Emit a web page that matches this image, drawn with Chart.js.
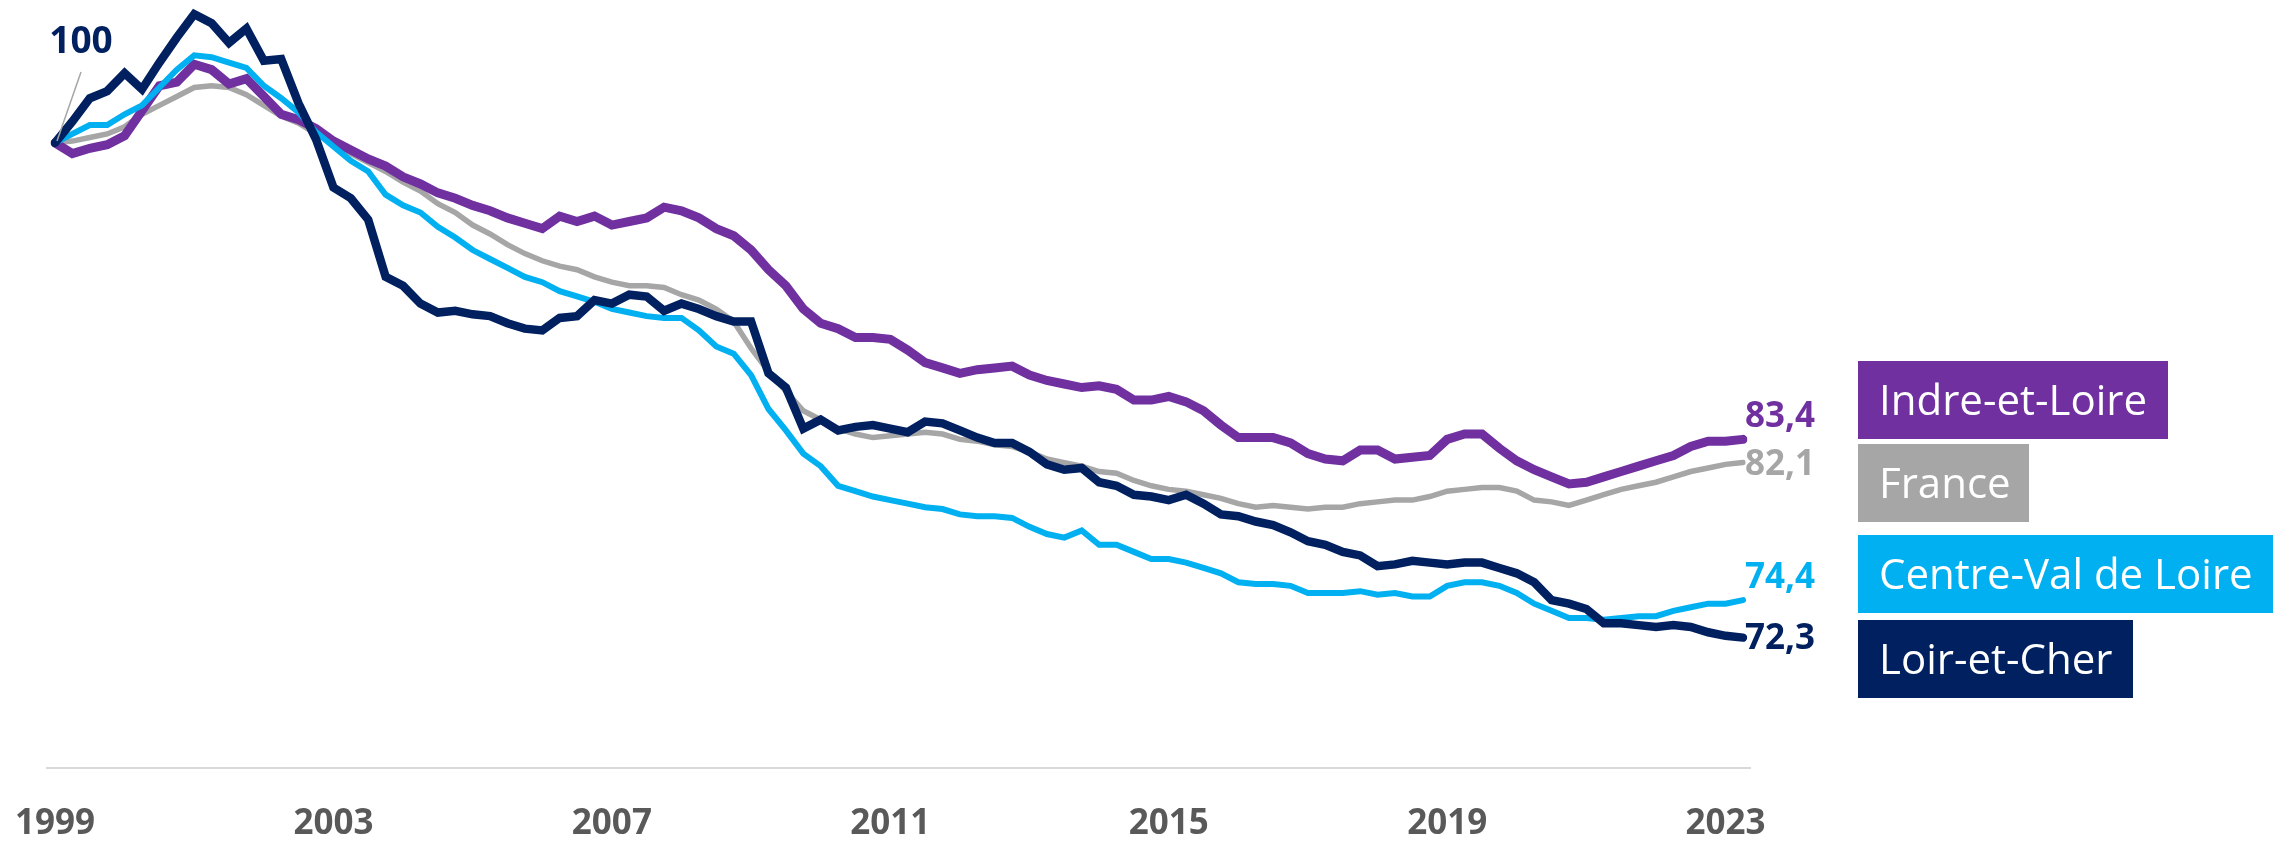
<!DOCTYPE html>
<html>
<head>
<meta charset="utf-8">
<script src="https://cdn.jsdelivr.net/npm/chart.js@4"></script>
<style>
  html, body { margin: 0; padding: 0; background: #fff; }
  #wrap { width: 2273px; height: 842px; }
</style>
</head>
<body>
<div id="wrap"><canvas id="myChart" width="2273" height="842"></canvas></div>
<script>
// années affichées sur l'axe (données trimestrielles, 1999 T1 -> 2023 T2)
const years = [1999, 2000, 2001, 2002, 2003, 2004, 2005, 2006, 2007, 2008, 2009, 2010, 2011,
  2012, 2013, 2014, 2015, 2016, 2017, 2018, 2019, 2020, 2021, 2022, 2023];
const tickYears = ['1999', '2003', '2007', '2011', '2015', '2019', '2023'];
const lastQuarter = 2; // 2023 T2

const seriesNames = ['Indre-et-Loire', 'France', 'Centre-Val de Loire', 'Loir-et-Cher'];

const indreEtLoire = [
  100, 99.4, 99.7, 99.9, 100.4, 101.8, 103.2, 103.4, 104.4, 104.1, 103.3, 103.6, 102.6, 101.6, 101.3, 100.8, 100.1, 99.6,
  99.1, 98.7, 98.1, 97.7, 97.2, 96.9, 96.5, 96.2, 95.8, 95.5, 95.2, 95.9, 95.6, 95.9, 95.4, 95.6,
  95.8, 96.4, 96.2, 95.8, 95.2, 94.8, 94.0, 92.9, 92.0, 90.7, 89.9, 89.6, 89.1, 89.1, 89.0, 88.4,
  87.7, 87.4, 87.1, 87.3, 87.4, 87.5, 87.0, 86.7, 86.5, 86.3, 86.4, 86.2, 85.6, 85.6, 85.8, 85.5,
  85.0, 84.2, 83.5, 83.5, 83.5, 83.2, 82.6, 82.3, 82.2, 82.8, 82.8, 82.3, 82.4, 82.5, 83.4, 83.7,
  83.7, 82.9, 82.2, 81.7, 81.3, 80.9, 81.0, 81.3, 81.6, 81.9, 82.2, 82.5, 83.0, 83.3, 83.3, 83.4
];
const france = [
  100, 100.1, 100.3, 100.5, 100.9, 101.6, 102.1, 102.6, 103.1, 103.2, 103.1, 102.7, 102.1, 101.5, 101.1, 100.5, 100.0, 99.4,
  98.9, 98.4, 97.8, 97.3, 96.6, 96.1, 95.4, 94.9, 94.3, 93.8, 93.4, 93.1, 92.9, 92.5, 92.2, 92.0,
  92.0, 91.9, 91.5, 91.2, 90.7, 90.0, 88.5, 87.2, 86.1, 85.0, 84.5, 84.0, 83.7, 83.5, 83.6, 83.7,
  83.8, 83.7, 83.4, 83.3, 83.1, 83.0, 82.7, 82.3, 82.1, 81.9, 81.6, 81.5, 81.1, 80.8, 80.6, 80.5,
  80.3, 80.1, 79.8, 79.6, 79.7, 79.6, 79.5, 79.6, 79.6, 79.8, 79.9, 80.0, 80.0, 80.2, 80.5, 80.6,
  80.7, 80.7, 80.5, 80.0, 79.9, 79.7, 80.0, 80.3, 80.6, 80.8, 81.0, 81.3, 81.6, 81.8, 82.0, 82.1
];
const centreValDeLoire = [
  100, 100.5, 101.0, 101.0, 101.6, 102.1, 103.1, 104.1, 104.9, 104.8, 104.5, 104.2, 103.2, 102.5, 101.7, 100.6, 99.8, 99.0,
  98.4, 97.1, 96.5, 96.1, 95.3, 94.7, 94.0, 93.5, 93.0, 92.5, 92.2, 91.7, 91.4, 91.1, 90.7, 90.5,
  90.3, 90.2, 90.2, 89.5, 88.6, 88.2, 87.0, 85.1, 83.9, 82.6, 81.9, 80.8, 80.5, 80.2, 80.0, 79.8,
  79.6, 79.5, 79.2, 79.1, 79.1, 79.0, 78.5, 78.1, 77.9, 78.3, 77.5, 77.5, 77.1, 76.7, 76.7, 76.5,
  76.2, 75.9, 75.4, 75.3, 75.3, 75.2, 74.8, 74.8, 74.8, 74.9, 74.7, 74.8, 74.6, 74.6, 75.2, 75.4,
  75.4, 75.2, 74.8, 74.2, 73.8, 73.4, 73.4, 73.3, 73.4, 73.5, 73.5, 73.8, 74.0, 74.2, 74.2, 74.4
];
const loirEtCher = [
  100, 101.2, 102.5, 102.9, 103.9, 103.0, 104.5, 105.9, 107.2, 106.7, 105.6, 106.4, 104.6, 104.7, 102.2, 100.2, 97.5, 96.9,
  95.7, 92.5, 92.0, 91.0, 90.5, 90.6, 90.4, 90.3, 89.9, 89.6, 89.5, 90.2, 90.3, 91.2, 91.0, 91.5,
  91.4, 90.6, 91.0, 90.7, 90.3, 90.0, 90.0, 87.1, 86.3, 84.0, 84.5, 83.9, 84.1, 84.2, 84.0, 83.8,
  84.4, 84.3, 83.9, 83.5, 83.2, 83.2, 82.7, 82.0, 81.7, 81.8, 81.0, 80.8, 80.3, 80.2, 80.0, 80.3,
  79.8, 79.2, 79.1, 78.8, 78.6, 78.2, 77.7, 77.5, 77.1, 76.9, 76.3, 76.4, 76.6, 76.5, 76.4, 76.5,
  76.5, 76.2, 75.9, 75.4, 74.4, 74.2, 73.9, 73.1, 73.1, 73.0, 72.9, 73.0, 72.9, 72.6, 72.4, 72.3
];

const colors = ['#7030A0', '#A6A6A6', '#00B0F0', '#002060'];

// libellés trimestriels
const labels = [];
years.forEach(y => {
  const nq = (y === years[years.length - 1]) ? lastQuarter : 4;
  for (let q = 1; q <= nq; q++) labels.push(y + ' T' + q);
});

const FONT = "'Open Sans', 'DejaVu Sans', sans-serif";

// étiquettes, encadrés de légende, ligne de base
const annotations = {
  id: 'annotations',
  afterDatasetsDraw(chart) {
    const ctx = chart.ctx;
    const area = chart.chartArea;
    const xs = chart.scales.x, ys = chart.scales.y;
    ctx.save();

    // ligne de base
    ctx.strokeStyle = '#D9D9D9';
    ctx.lineWidth = 2;
    ctx.beginPath();
    ctx.moveTo(area.left - 9, area.bottom);
    ctx.lineTo(area.right + 8, area.bottom);
    ctx.stroke();

    // "100" avec trait de rappel
    const x0 = xs.getPixelForValue(0), y0 = ys.getPixelForValue(loirEtCher[0]);
    ctx.strokeStyle = '#A6A6A6';
    ctx.lineWidth = 1.5;
    ctx.beginPath();
    ctx.moveTo(x0 + 2, y0 - 2);
    ctx.lineTo(x0 + 26, y0 - 71);
    ctx.stroke();
    ctx.fillStyle = colors[3];
    ctx.font = 'bold 37px ' + FONT;
    ctx.textAlign = 'center';
    ctx.textBaseline = 'middle';
    ctx.fillText(String(loirEtCher[0]), x0 + 26, y0 - 100);

    // valeurs finales
    const series = [indreEtLoire, france, centreValDeLoire, loirEtCher];
    const offsets = [-22, 2, -22, 1];
    const last = labels.length - 1;
    ctx.font = 'bold 35px ' + FONT;
    ctx.textAlign = 'left';
    series.forEach((s, k) => {
      const v = s[last];
      ctx.fillStyle = colors[k];
      ctx.fillText(v.toFixed(1).replace('.', ','), xs.getPixelForValue(last) + 2, ys.getPixelForValue(v) + offsets[k]);
    });

    // encadrés de légende
    const boxes = [
      { top: 361, w: 310 },
      { top: 444, w: 171 },
      { top: 535, w: 415 },
      { top: 620, w: 275 }
    ];
    ctx.font = '42px ' + FONT;
    ctx.textBaseline = 'alphabetic';
    boxes.forEach((b, k) => {
      ctx.fillStyle = colors[k];
      ctx.fillRect(1858, b.top, b.w, 78);
      ctx.fillStyle = '#FFFFFF';
      ctx.fillText(seriesNames[k], 1879, b.top + 54);
    });
    ctx.restore();
  }
};

const ctx = document.getElementById('myChart').getContext('2d');
new Chart(ctx, {
  type: 'line',
  data: {
    labels: labels,
    datasets: [
      { label: seriesNames[3], data: loirEtCher, borderColor: colors[3], borderWidth: 8.5, order: 0 },
      { label: seriesNames[2], data: centreValDeLoire, borderColor: colors[2], borderWidth: 6, order: 1 },
      { label: seriesNames[0], data: indreEtLoire, borderColor: colors[0], borderWidth: 9, order: 2 },
      { label: seriesNames[1], data: france, borderColor: colors[1], borderWidth: 5.5, order: 3 }
    ]
  },
  options: {
    responsive: false,
    animation: false,
    events: [],
    layout: { padding: { left: 55, right: 530, top: 0, bottom: 0 } },
    elements: {
      point: { radius: 0 },
      line: { tension: 0, borderCapStyle: 'round', borderJoinStyle: 'miter', fill: false }
    },
    plugins: { legend: { display: false }, tooltip: { enabled: false } },
    scales: {
      x: {
        type: 'category',
        offset: false,
        grid: { display: false, drawTicks: false },
        border: { display: false },
        afterFit: function (scale) {
          // hauteur fixe de l'axe et pas de marge latérale pour les libellés
          scale.height = 74;
          scale.paddingLeft = 0;
          scale.paddingRight = 0;
        },
        ticks: {
          autoSkip: false,
          maxRotation: 0,
          padding: 35,
          color: '#595959',
          font: { family: FONT, size: 35, weight: 'bold' },
          callback: function (val, i) {
            const lab = labels[i];
            const y = lab.slice(0, 4);
            return (lab.endsWith('T1') && tickYears.includes(y)) ? y : '';
          }
        }
      },
      y: { display: false, min: 65, max: 108 }
    }
  },
  plugins: [annotations]
});
</script>
</body>
</html>
